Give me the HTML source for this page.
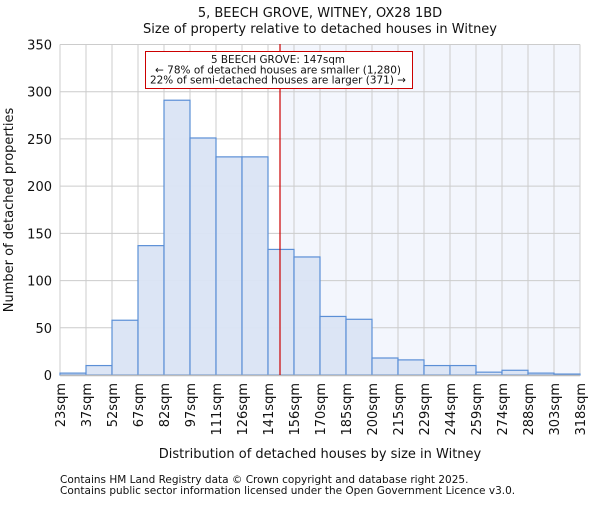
<!DOCTYPE html>
<html><head><meta charset="utf-8"><style>
body{margin:0;background:#fff;}
svg text{font-family:"DejaVu Sans","Liberation Sans",sans-serif;fill:#111;}
</style></head><body>
<svg id="chart" width="600" height="500" xmlns="http://www.w3.org/2000/svg">
<text x="320" y="17" font-size="13" text-anchor="middle">5, BEECH GROVE, WITNEY, OX28 1BD</text>
<text x="320" y="33" font-size="13" text-anchor="middle">Size of property relative to detached houses in Witney</text>
<rect x="280" y="44" width="300" height="331" fill="#f3f6fd"/>
<g id="grid"></g>
<g id="bars"></g>
<g id="axes"></g>
<line x1="280" y1="44" x2="280" y2="375" stroke="#cc0000" stroke-width="1.2"/>
<rect x="145.5" y="51.5" width="267" height="37" fill="#fff" stroke="#cc0000" stroke-width="1"/>
<text x="278" y="63" font-size="11" text-anchor="middle" textLength="134" lengthAdjust="spacingAndGlyphs">5 BEECH GROVE: 147sqm</text>
<text x="278" y="73.5" font-size="11" text-anchor="middle" textLength="246" lengthAdjust="spacingAndGlyphs">← 78% of detached houses are smaller (1,280)</text>
<text x="278" y="83.5" font-size="11" text-anchor="middle" textLength="256" lengthAdjust="spacingAndGlyphs">22% of semi-detached houses are larger (371) →</text>
<text x="320" y="458" font-size="13" text-anchor="middle">Distribution of detached houses by size in Witney</text>
<text transform="translate(13,210) rotate(-90)" font-size="13" text-anchor="middle">Number of detached properties</text>
<text x="60" y="483" font-size="10.5" fill="#444">Contains HM Land Registry data © Crown copyright and database right 2025.</text>
<text x="60" y="494" font-size="10.5" fill="#444">Contains public sector information licensed under the Open Government Licence v3.0.</text>
</svg>
<script>
const categories=["23sqm","37sqm","52sqm","67sqm","82sqm","97sqm","111sqm","126sqm","141sqm","156sqm","170sqm","185sqm","200sqm","215sqm","229sqm","244sqm","259sqm","274sqm","288sqm","303sqm","318sqm"];
const counts=[2,10,58,137,291,251,231,231,133,125,62,59,18,16,10,10,3,5,2,1];
const yTicks=[0,50,100,150,200,250,300,350];
const NS="http://www.w3.org/2000/svg";
const x0=60,x1=580,yb=375,yt=44.5,ymax=350;
const bw=(x1-x0)/counts.length;
const xs=i=>x0+i*bw;
const ys=v=>yb-(v/ymax)*(yb-yt);
function mk(t,a,p){const e=document.createElementNS(NS,t);for(const k in a)e.setAttribute(k,a[k]);p.appendChild(e);return e;}
const grid=document.getElementById('grid'),bars=document.getElementById('bars'),axes=document.getElementById('axes');
yTicks.forEach(v=>{
 const l=mk('line',{x1:x0,x2:x1,y1:ys(v),y2:ys(v),stroke:'#cccccc','stroke-width':1},grid);
 
 
 const t=mk('text',{x:x0-8,y:ys(v)+5,'font-size':13,'text-anchor':'end'},axes);
 t.textContent=v;
 
 
});
categories.forEach((c,i)=>{
 const x=xs(i);
 const l=mk('line',{x1:x,x2:x,y1:yt,y2:yb,stroke:'#cccccc','stroke-width':1},grid);
 
 
 const t=mk('text',{transform:`translate(${x+5},${yb+8}) rotate(-90)`,'font-size':13,'text-anchor':'end'},axes);
 t.textContent=c;
 
 
});
counts.forEach((v,i)=>{
 const r=mk('rect',{x:xs(i),y:ys(v),width:bw,height:yb-ys(v),fill:'#dae4f4','fill-opacity':0.95,stroke:'#5b8fd6','stroke-width':1.2},bars);
 
 
});
const ax=mk('line',{x1:x0,x2:x1,y1:yb+0.5,y2:yb+0.5,stroke:'#bbbbbb','stroke-width':1.5},axes);


</script>
</body></html>
